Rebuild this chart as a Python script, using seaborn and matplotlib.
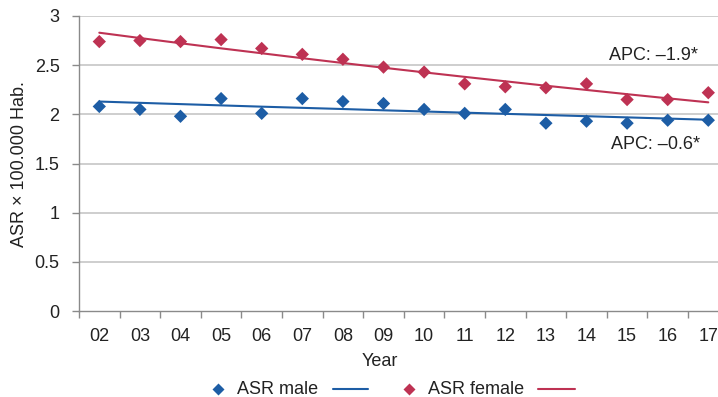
import numpy as np
import pandas as pd
import matplotlib
matplotlib.use("Agg")
import matplotlib.pyplot as plt
from matplotlib.lines import Line2D
import seaborn as sns

years = ["02", "03", "04", "05", "06", "07", "08", "09",
         "10", "11", "12", "13", "14", "15", "16", "17"]
asr_male = [2.08, 2.05, 1.98, 2.16, 2.01, 2.16, 2.13, 2.11,
            2.05, 2.01, 2.05, 1.91, 1.93, 1.91, 1.94, 1.94]
asr_female = [2.74, 2.75, 2.74, 2.76, 2.67, 2.61, 2.56, 2.48,
              2.43, 2.31, 2.28, 2.27, 2.31, 2.15, 2.15, 2.22]
trend_male = [2.13, 2.117, 2.104, 2.091, 2.078, 2.066, 2.054, 2.041,
              2.029, 2.017, 2.005, 1.993, 1.981, 1.969, 1.957, 1.945]
trend_female = [2.83, 2.776, 2.723, 2.671, 2.621, 2.571, 2.522, 2.474,
                2.427, 2.381, 2.336, 2.291, 2.248, 2.205, 2.163, 2.122]
apc_labels = ["APC: \u20131.9*", "APC: \u20130.6*"]
yticks = [0, 0.5, 1, 1.5, 2, 2.5, 3]
ytick_labels = ["0", "0.5", "1", "1.5", "2", "2.5", "3"]

BLUE = "#1D5DA5"
RED = "#BE3253"
TXT = "#222222"
FS = 13

sns.set_theme(style="white")
plt.rcParams["font.family"] = ["Liberation Sans", "DejaVu Sans"]

W, H = 718, 397
fig = plt.figure(figsize=(W / 100, H / 100), dpi=100)
L, R, T, B = 79, 728.6, 16, 311
ax = fig.add_axes([L / W, 1 - B / H, (R - L) / W, (B - T) / H])

pos = np.arange(len(years))
df = pd.DataFrame({"pos": pos, "male": asr_male, "female": asr_female,
                   "tm": trend_male, "tf": trend_female})

# gridlines
for yv in yticks[1:]:
    ax.axhline(yv, color="#C6C6C6", lw=1.2, zorder=0)

sns.lineplot(data=df, x="pos", y="tm", ax=ax, color=BLUE, lw=1.5, zorder=2)
sns.lineplot(data=df, x="pos", y="tf", ax=ax, color=RED, lw=1.5, zorder=2)
sns.scatterplot(data=df, x="pos", y="male", ax=ax, marker="D", s=46,
                color=BLUE, edgecolor="none", zorder=3)
sns.scatterplot(data=df, x="pos", y="female", ax=ax, marker="D", s=46,
                color=RED, edgecolor="none", zorder=3)

ax.set_xlim(-0.5, len(years) - 0.5)
ax.set_ylim(0, 3)
ax.set_yticks(yticks)
ax.set_yticklabels(ytick_labels)
ax.set_xticks(np.arange(-0.5, len(years), 1.0))
ax.set_xticklabels([])
ax.set_xticks(pos, minor=True)
ax.set_xticklabels(years, minor=True)
ax.tick_params(axis="x", which="major", direction="out", length=5, width=1,
               color="#8A8A8A", bottom=True)
ax.tick_params(axis="x", which="minor", length=0, pad=12, labelsize=FS,
               labelcolor=TXT, bottom=True)
ax.tick_params(axis="y", direction="out", length=5, width=1, color="#8A8A8A",
               left=True, labelsize=FS, labelcolor=TXT, pad=9)

for s in ["top", "right"]:
    ax.spines[s].set_visible(False)
for s in ["left", "bottom"]:
    ax.spines[s].set_color("#8A8A8A")
    ax.spines[s].set_linewidth(1.0)

ax.set_xlabel("")
ax.set_ylabel("")
fig.text(380 / W, 1 - 361 / H, "Year", ha="center", va="center",
         fontsize=FS, color=TXT)
fig.text(20 / W, 1 - 164 / H, "ASR \u00d7 100.000 Hab.", ha="center",
         va="center", rotation=90, fontsize=FS, color=TXT)

ax.text(14.75, 2.60, apc_labels[0], ha="right", va="center",
        fontsize=FS, color=TXT)
ax.text(14.8, 1.69, apc_labels[1], ha="right", va="center",
        fontsize=FS, color=TXT)

# legend drawn in figure pixels
ly = 1 - 389 / H
fig.add_artist(Line2D([218 / W], [ly], marker="D", markersize=6.2, color=BLUE,
                      markeredgecolor="none", transform=fig.transFigure))
fig.text(237 / W, ly, "ASR male", ha="left", va="center", fontsize=FS, color=TXT)
fig.add_artist(Line2D([333 / W, 368 / W], [ly, ly], color=BLUE, lw=1.5,
                      transform=fig.transFigure))
fig.add_artist(Line2D([409 / W], [ly], marker="D", markersize=6.2, color=RED,
                      markeredgecolor="none", transform=fig.transFigure))
fig.text(428 / W, ly, "ASR female", ha="left", va="center", fontsize=FS, color=TXT)
fig.add_artist(Line2D([538 / W, 575 / W], [ly, ly], color=RED, lw=1.5,
                      transform=fig.transFigure))

fig.savefig("out.png", dpi=100)
